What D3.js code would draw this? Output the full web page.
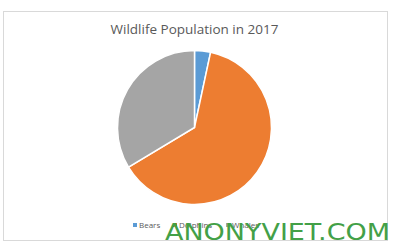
<!DOCTYPE html>
<html>
<head>
<meta charset="utf-8">
<script src="https://cdn.jsdelivr.net/npm/d3@7"></script>
<style>
  body { margin: 0; background: #fff; }
  svg { display: block; }
</style>
</head>
<body>
<div class="chart"></div>
<script>
// data
var animals = ["Bears", "Dolphins", "Whales"];
var population = [8, 150, 80];
var sliceColors = ["#5B9BD5", "#ED7D31", "#A5A5A5"];

var width = 395, height = 246;

var svg = d3.select(".chart")
  .append("svg")
  .attr("width", width)
  .attr("height", height);

// chart area border
svg.append("rect")
  .attr("x", 3.5).attr("y", 11.5)
  .attr("width", 384).attr("height", 229)
  .attr("fill", "#fff")
  .attr("stroke", "#d9d9d9");

svg.append("text")
  .attr("x", 194.5).attr("y", 34)
  .attr("text-anchor", "middle")
  .style("font-family", "'Open Sans', sans-serif")
  .style("font-size", "13.5px")
  .style("fill", "#595959")
  .text("Wildlife Population in 2017");

var data = animals.map(function (d, i) {
  return { name: d, value: population[i], color: sliceColors[i] };
});

var pie = d3.pie().sort(null).value(function (d) { return d.value; });
var arc = d3.arc().innerRadius(0).outerRadius(77);

var g = svg.append("g").attr("transform", "translate(194.5,127.5)");

g.selectAll("path")
  .data(pie(data))
  .enter()
  .append("path")
  .attr("d", arc)
  .attr("fill", function (d) { return d.data.color; })
  .attr("stroke", "#fff")
  .attr("stroke-width", 1.5);

// legend along the bottom
var legendX = [133, 173, 226];
var legend = svg.selectAll(".legend")
  .data(data)
  .enter()
  .append("g")
  .attr("class", "legend")
  .attr("transform", function (d, i) { return "translate(" + legendX[i] + ",225)"; });

legend.append("rect")
  .attr("x", 0).attr("y", -2)
  .attr("width", 4).attr("height", 4)
  .attr("fill", function (d) { return d.color; });

legend.append("text")
  .attr("x", 6).attr("y", 3)
  .style("font-family", "'Open Sans', sans-serif")
  .style("font-size", "8px")
  .style("fill", "#595959")
  .text(function (d) { return d.name; });

// watermark
svg.append("text")
  .attr("x", 165).attr("y", 240)
  .attr("textLength", 225)
  .attr("lengthAdjust", "spacingAndGlyphs")
  .style("font-family", "'DejaVu Sans', sans-serif")
  .style("font-size", "23px")
  .style("fill", "#43a047")
  .text("ANONYVIET.COM");
</script>
</body>
</html>
